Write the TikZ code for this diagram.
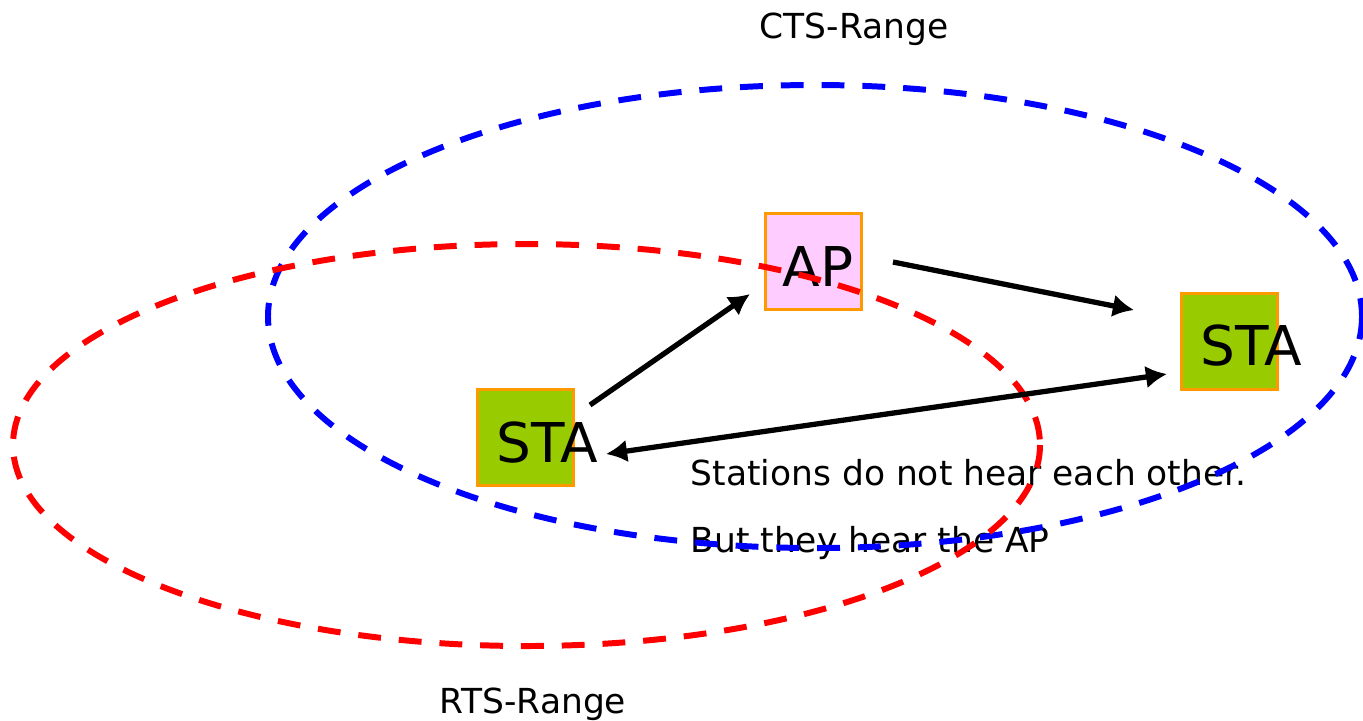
\documentclass[tikz,border=0pt]{standalone}
\usepackage{fontspec}
\setmainfont{DejaVu Sans}
\usetikzlibrary{arrows.meta}
\definecolor{ap_pink}{RGB}{255, 204, 255}
\definecolor{sta_green}{RGB}{153, 204, 0}
\definecolor{box_orange}{RGB}{255, 153, 0}
\tikzstyle{ap}=[rectangle,fill=ap_pink,draw=box_orange,
  line width=0.85pt,minimum width=0.96cm,minimum height=0.96cm]
\tikzstyle{sta}=[rectangle,fill=sta_green,draw=box_orange,
  line width=0.85pt,minimum width=0.96cm,minimum height=0.96cm]
\tikzstyle{boxtext}=[font=\fontsize{15.6}{18}\selectfont,inner sep=0pt]
\tikzstyle{note}=[font=\fontsize{9.8}{12}\selectfont,inner sep=0pt]
\tikzstyle{cover}=[line width=1.7pt,dash pattern=on 6.5pt off 5.1pt]
\tikzstyle{link}=[line width=1.5pt,-{Latex[length=6pt,width=6.5pt]}]
\tikzstyle{none}=[inner sep=0pt]

\begin{document}
\begin{tikzpicture}[x=0.01cm,y=-0.01cm]
        \useasboundingbox (0,0) rectangle (1363,720);
        % stations and access point
        \node [style=ap, label={[style=boxtext,xshift=0.045cm,yshift=-0.045cm]center:AP}] (0) at (813.5,261.5) {};
		\node [style=sta, label={[style=boxtext,xshift=0.215cm,yshift=-0.05cm]center:STA}] (1) at (525.5,437.5) {};
		\node [style=sta, label={[style=boxtext,xshift=0.22cm,yshift=-0.04cm]center:STA}] (2) at (1229.5,341.5) {};
		% texts
		\node [style=note, anchor=base] (3) at (854,38) {CTS-Range};
		\node [style=note, anchor=base] (4) at (533,713) {RTS-Range};
		\node [style=note, anchor=base west] (5) at (690,485) {Stations do not hear each other.};
		\node [style=note, anchor=base west] (6) at (690,552) {But they hear the AP};
		% ranges
		\draw [style=cover, blue] (815,316.5) ellipse (547 and 231.5);
		\draw [style=cover, red] (526.5,445) ellipse (513.5 and 201);
		% arrow ends
		\node [style=none] (7) at (590,405) {};
		\node [style=none] (8) at (750,294) {};
		\node [style=none] (9) at (893,262) {};
		\node [style=none] (10) at (1134,310) {};
		\node [style=none] (11) at (606,454) {};
		\node [style=none] (12) at (1167,374) {};
		\draw [style=link] (7.center) to (8.center);
		\draw [style=link] (9.center) to (10.center);
		\draw [style=link, {Latex[length=6pt,width=6.5pt]}-{Latex[length=6pt,width=6.5pt]}] (11.center) to (12.center);
    \end{tikzpicture}
\end{document}
